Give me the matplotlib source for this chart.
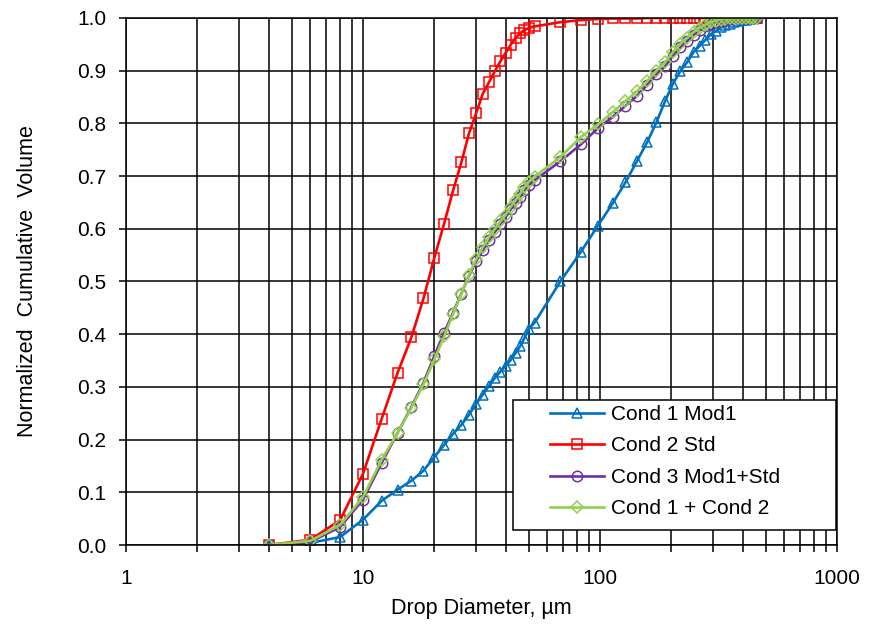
import numpy as np
import matplotlib.pyplot as plt
from matplotlib.patches import Rectangle
from matplotlib.ticker import FixedLocator, LogLocator, NullFormatter

plt.rcParams['font.family'] = ['Liberation Sans', 'DejaVu Sans']

# drop diameter bins, um
diam = [4, 6, 8, 10, 12, 14, 16, 18, 20, 22, 24, 26, 28, 30, 32, 34, 36, 38, 40,
        42, 44, 46, 48, 50, 53, 68, 83, 98, 113, 128, 143, 158, 173, 188, 203,
        218, 233, 248, 263, 278, 293, 308, 323, 338, 353, 368, 383, 398, 413,
        428, 443, 458]

cond1_mod1 = [0, 0.004, 0.015, 0.048, 0.084, 0.105, 0.122, 0.141, 0.167, 0.190,
              0.211, 0.228, 0.247, 0.268, 0.285, 0.302, 0.317, 0.329, 0.340,
              0.351, 0.364, 0.377, 0.393, 0.410, 0.422, 0.500, 0.556, 0.606,
              0.648, 0.688, 0.728, 0.764, 0.802, 0.842, 0.875, 0.899, 0.916,
              0.935, 0.947, 0.958, 0.969, 0.975, 0.982, 0.986, 0.989, 0.992,
              0.994, 0.996, 0.997, 0.998, 0.999, 1.0]

cond2_std = [0, 0.010, 0.047, 0.135, 0.240, 0.327, 0.394, 0.468, 0.545, 0.610,
             0.673, 0.726, 0.781, 0.819, 0.856, 0.878, 0.899, 0.918, 0.934,
             0.949, 0.962, 0.971, 0.977, 0.981, 0.984, 0.992, 0.996, 0.998,
             0.999, 0.999, 0.999, 1.0, 1.0, 1.0, 1.0, 1.0, 1.0, 1.0, 1.0, 1.0,
             1.0, 1.0, 1.0, 1.0, 1.0, 1.0, 1.0, 1.0, 1.0, 1.0, 1.0, 1.0]

cond3_mix = [0, 0.006, 0.034, 0.086, 0.156, 0.213, 0.262, 0.308, 0.359, 0.403,
             0.441, 0.477, 0.511, 0.538, 0.559, 0.578, 0.594, 0.609, 0.622,
             0.637, 0.649, 0.661, 0.673, 0.683, 0.692, 0.728, 0.760, 0.791,
             0.812, 0.833, 0.852, 0.873, 0.893, 0.908, 0.928, 0.944, 0.956,
             0.968, 0.977, 0.984, 0.989, 0.993, 0.995, 0.997, 0.998, 0.999,
             0.999, 1.0, 1.0, 1.0, 1.0, 1.0]

cond1_plus_2 = [0, 0.008, 0.038, 0.091, 0.162, 0.213, 0.260, 0.305, 0.352,
                0.396, 0.438, 0.476, 0.513, 0.542, 0.565, 0.584, 0.600, 0.614,
                0.627, 0.642, 0.654, 0.666, 0.679, 0.689, 0.699, 0.736, 0.774,
                0.798, 0.821, 0.842, 0.861, 0.880, 0.900, 0.916, 0.935, 0.951,
                0.962, 0.973, 0.981, 0.987, 0.992, 0.995, 0.997, 0.998, 0.999,
                1.0, 1.0, 1.0, 1.0, 1.0, 1.0, 1.0]

series = [('Cond 1 Mod1', cond1_mod1, '#0070C0', '^'),
          ('Cond 2 Std', cond2_std, '#FF0000', 's'),
          ('Cond 3 Mod1+Std', cond3_mix, '#7030A0', 'o'),
          ('Cond 1 + Cond 2', cond1_plus_2, '#92D050', 'D')]

fig = plt.figure(figsize=(8.73, 6.24), dpi=100)
ax = fig.add_axes([0.1443, 0.1266, 0.8145, 0.8446])

for name, vals, col, mk in series:
    ms = 6.5 if mk == 'D' else 7.5
    ax.plot(diam, vals, color=col, lw=1.9, marker=mk, ms=ms, mfc='none',
            mec=col, mew=1.1, label=name)

ax.set_xscale('log')
ax.set_xlim(1, 1000)
ax.set_ylim(0, 1.0)
ax.set_xticks([1, 10, 100, 1000])
ax.set_xticklabels(['1', '10', '100', '1000'])
ax.xaxis.set_minor_locator(LogLocator(base=10, subs=np.arange(2, 10)))
ax.xaxis.set_minor_formatter(NullFormatter())
ax.yaxis.set_major_locator(FixedLocator(np.arange(0, 1.01, 0.1)))
ax.set_yticklabels(['%.1f' % v for v in np.arange(0, 1.01, 0.1)])

ax.grid(True, which='major', color='black', lw=1.1)
ax.grid(True, which='minor', axis='x', color='black', lw=1.1)
ax.set_axisbelow(True)
for s in ax.spines.values():
    s.set_color('black')
    s.set_linewidth(1.1)

ax.tick_params(axis='both', which='major', direction='out', length=5,
               width=1.1, labelsize=15, color='black')
ax.tick_params(axis='x', which='major', pad=12.5)
ax.tick_params(axis='y', which='major', pad=9)
ax.tick_params(axis='x', which='minor', direction='out', length=5, width=1.1)

ax.set_xlabel('Drop Diameter, µm', fontsize=15.5, labelpad=7)
ax.set_ylabel('Normalized  Cumulative  Volume', fontsize=15.5, labelpad=28)

# legend box drawn separately so it can be sized like the original
box = Rectangle((0.544, 0.0285), 0.4546, 0.2465, transform=ax.transAxes,
                facecolor='white', edgecolor='black', lw=1.1, zorder=4)
ax.add_patch(box)
leg = ax.legend(loc='center left', bbox_to_anchor=(0.597, 0.158),
                borderaxespad=0, borderpad=0, fontsize=15, frameon=False,
                handlelength=2.55, handletextpad=0.35, labelspacing=0.6)
leg.set_zorder(5)

fig.savefig('out.png', dpi=100)
